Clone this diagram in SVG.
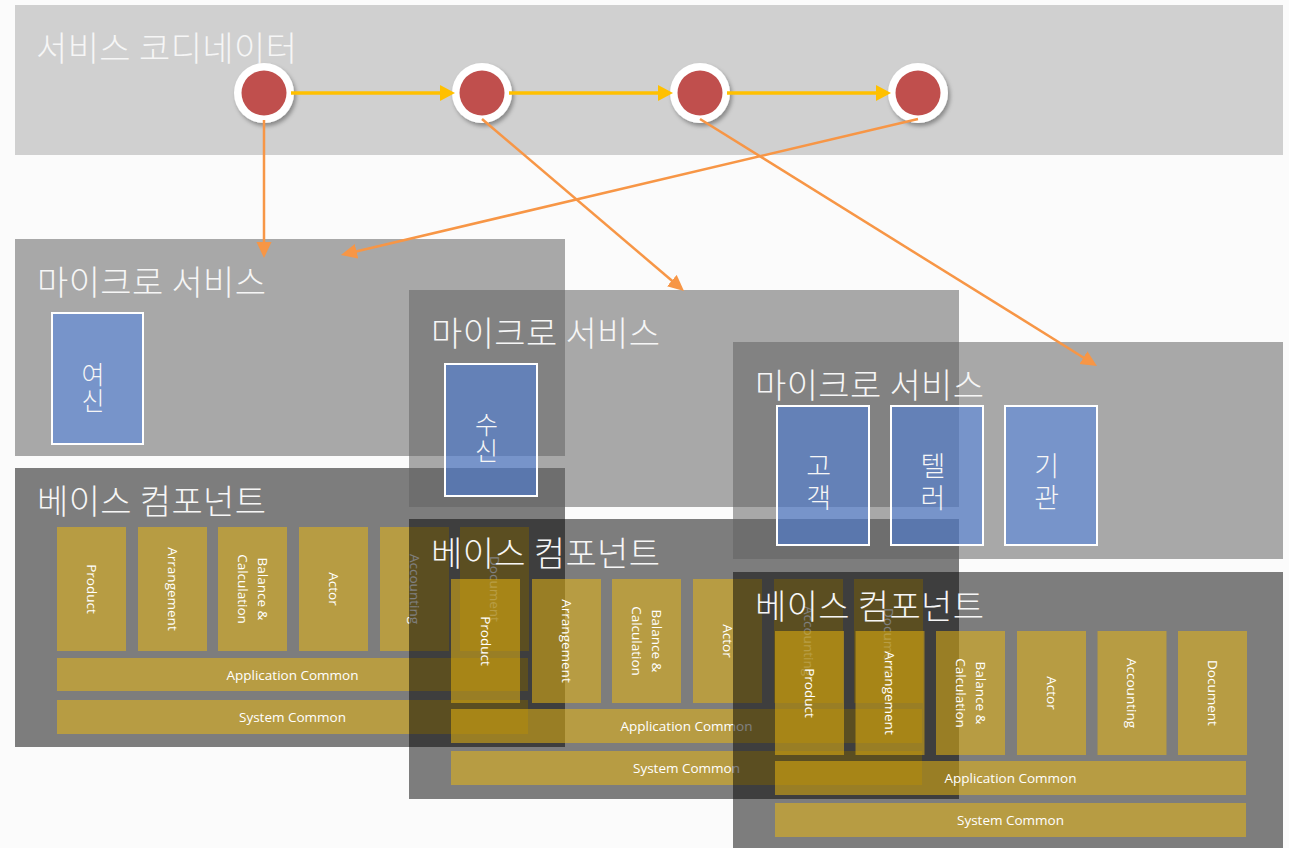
<svg xmlns="http://www.w3.org/2000/svg" width="1289" height="848" viewBox="0 0 1289 848">
  <defs>
    <style>
      .ko { font-family: "Noto Sans CJK KR", "Noto Sans", sans-serif; font-weight: 300; fill: #f6f6f6; }
      .title { font-size: 34px; }
      .blk { font-size: 25px; text-anchor: middle; }
      .blk3 { font-size: 27px; text-anchor: middle; }
      .en { font-family: "Open Sans", "Liberation Sans", sans-serif; font-size: 13.5px; fill: #ffffff; text-anchor: middle; }
      .micro { fill: #626262; fill-opacity: 0.54; }
      .base { fill: #000000; fill-opacity: 0.5; }
      .gold { fill: #ebb710; fill-opacity: 0.53; }
      .svc { fill: #4680ec; fill-opacity: 0.5; stroke: #ffffff; stroke-width: 2; }
      .flow { stroke: #ffc000; stroke-width: 3.5; fill: none; }
      .call { stroke: #f79646; stroke-width: 2.5; fill: none; }
    </style>
    <filter id="shadow" x="-30%" y="-30%" width="160%" height="160%">
      <feDropShadow dx="2" dy="3" stdDeviation="2" flood-color="#000" flood-opacity="0.35"/>
    </filter>
    <marker id="headY" markerUnits="userSpaceOnUse" markerWidth="16" markerHeight="16" refX="5" refY="8" orient="auto">
      <path d="M0,0 L15,8 L0,16 Z" fill="#ffc000"/>
    </marker>
    <marker id="headO" markerUnits="userSpaceOnUse" markerWidth="17" markerHeight="16" refX="6" refY="8" orient="auto">
      <path d="M0,0.5 L16,8 L0,15.5 Z" fill="#f79646"/>
    </marker>
  </defs>

  <rect x="0" y="0" width="1289" height="848" fill="#fbfbfb"/>

  <!-- coordinator band -->
  <g id="coordinator">
    <rect x="15" y="5" width="1268" height="150" fill="#d0d0d0"/>
    <text class="ko title" x="36" y="61" textLength="261" lengthAdjust="spacing">서비스 코디네이터</text>
  </g>

  <!-- stack 1 -->
  <g id="ms-1">
    <rect class="micro" x="15" y="239" width="550" height="217"/>
    <text class="ko title" x="37" y="295" textLength="229" lengthAdjust="spacing">마이크로 서비스</text>
    <g id="svc-loan">
      <rect class="svc" x="52" y="313" width="91" height="131"/>
      <text class="ko blk"><tspan x="93" y="383.5">여</tspan><tspan x="93" dy="26.5">신</tspan></text>
    </g>
  </g>
  <g id="bc-1">
    <rect class="base" x="15" y="468" width="550" height="279"/>
    <text class="ko title" x="37" y="514" textLength="229" lengthAdjust="spacing">베이스 컴포넌트</text>
    <rect class="gold" x="57" y="527" width="69" height="124"/>
    <rect class="gold" x="138" y="527" width="69" height="124"/>
    <rect class="gold" x="218" y="527" width="69" height="124"/>
    <rect class="gold" x="299" y="527" width="69" height="124"/>
    <rect class="gold" x="380" y="527" width="69" height="124"/>
    <rect class="gold" x="460" y="527" width="69" height="124"/>
    <text class="en" transform="translate(91.5,589) rotate(90)" y="4.7">Product</text>
    <text class="en" transform="translate(172.5,589) rotate(90)" y="4.7">Arrangement</text>
    <text class="en" transform="translate(252.5,589) rotate(90)"><tspan x="0" y="-5.3">Balance &amp;</tspan><tspan x="0" y="14.7">Calculation</tspan></text>
    <text class="en" transform="translate(333.5,589) rotate(90)" y="4.7">Actor</text>
    <text class="en" transform="translate(414.5,589) rotate(90)" y="4.7">Accounting</text>
    <text class="en" transform="translate(494.5,589) rotate(90)" y="4.7">Document</text>
    <rect class="gold" x="57" y="658" width="471" height="33"/>
    <text class="en" x="292.5" y="679.5">Application Common</text>
    <rect class="gold" x="57" y="700" width="471" height="34"/>
    <text class="en" x="292.5" y="722">System Common</text>
  </g>

  <!-- stack 2 -->
  <g id="ms-2">
    <rect class="micro" x="409" y="290" width="550" height="217"/>
    <text class="ko title" x="431" y="346" textLength="229" lengthAdjust="spacing">마이크로 서비스</text>
    <g id="svc-deposit">
      <rect class="svc" x="445" y="364" width="92" height="132"/>
      <text class="ko blk"><tspan x="486.5" y="433.5">수</tspan><tspan x="486.5" dy="26.5">신</tspan></text>
    </g>
  </g>
  <g id="bc-2">
    <rect class="base" x="409" y="519" width="550" height="280"/>
    <text class="ko title" x="431" y="566" textLength="229" lengthAdjust="spacing">베이스 컴포넌트</text>
    <rect class="gold" x="451" y="579" width="69" height="124"/>
    <rect class="gold" x="532" y="579" width="69" height="124"/>
    <rect class="gold" x="612" y="579" width="69" height="124"/>
    <rect class="gold" x="693" y="579" width="69" height="124"/>
    <rect class="gold" x="774" y="579" width="69" height="124"/>
    <rect class="gold" x="854" y="579" width="69" height="124"/>
    <text class="en" transform="translate(485.5,641) rotate(90)" y="4.7">Product</text>
    <text class="en" transform="translate(566.5,641) rotate(90)" y="4.7">Arrangement</text>
    <text class="en" transform="translate(646.5,641) rotate(90)"><tspan x="0" y="-5.3">Balance &amp;</tspan><tspan x="0" y="14.7">Calculation</tspan></text>
    <text class="en" transform="translate(727.5,641) rotate(90)" y="4.7">Actor</text>
    <text class="en" transform="translate(808.5,641) rotate(90)" y="4.7">Accounting</text>
    <text class="en" transform="translate(888.5,641) rotate(90)" y="4.7">Document</text>
    <rect class="gold" x="451" y="709" width="471" height="34"/>
    <text class="en" x="686.5" y="731">Application Common</text>
    <rect class="gold" x="451" y="751" width="471" height="34"/>
    <text class="en" x="686.5" y="773">System Common</text>
  </g>

  <!-- stack 3 -->
  <g id="ms-3">
    <rect class="micro" x="733" y="342" width="550" height="217"/>
    <text class="ko title" x="755" y="398" textLength="229" lengthAdjust="spacing">마이크로 서비스</text>
    <g id="svc-customer">
      <rect class="svc" x="777" y="406" width="92" height="139"/>
      <text class="ko blk3"><tspan x="818.7" y="476">고</tspan><tspan x="818.7" dy="32">객</tspan></text>
    </g>
    <g id="svc-teller">
      <rect class="svc" x="891" y="406" width="92" height="139"/>
      <text class="ko blk3"><tspan x="933" y="476">텔</tspan><tspan x="933" dy="32">러</tspan></text>
    </g>
    <g id="svc-institution">
      <rect class="svc" x="1005" y="406" width="92" height="139"/>
      <text class="ko blk3"><tspan x="1046.7" y="476">기</tspan><tspan x="1046.7" dy="32">관</tspan></text>
    </g>
  </g>
  <g id="bc-3">
    <rect class="base" x="733" y="572" width="550" height="279"/>
    <text class="ko title" x="755" y="619" textLength="229" lengthAdjust="spacing">베이스 컴포넌트</text>
    <rect class="gold" x="775" y="631" width="69" height="124"/>
    <rect class="gold" x="855.5" y="631" width="69" height="124"/>
    <rect class="gold" x="936" y="631" width="69" height="124"/>
    <rect class="gold" x="1017" y="631" width="69" height="124"/>
    <rect class="gold" x="1097.5" y="631" width="69" height="124"/>
    <rect class="gold" x="1178" y="631" width="69" height="124"/>
    <text class="en" transform="translate(809.5,693) rotate(90)" y="4.7">Product</text>
    <text class="en" transform="translate(890,693) rotate(90)" y="4.7">Arrangement</text>
    <text class="en" transform="translate(970.5,693) rotate(90)"><tspan x="0" y="-5.3">Balance &amp;</tspan><tspan x="0" y="14.7">Calculation</tspan></text>
    <text class="en" transform="translate(1051.5,693) rotate(90)" y="4.7">Actor</text>
    <text class="en" transform="translate(1132,693) rotate(90)" y="4.7">Accounting</text>
    <text class="en" transform="translate(1212.5,693) rotate(90)" y="4.7">Document</text>
    <rect class="gold" x="775" y="761" width="471" height="34"/>
    <text class="en" x="1010.5" y="783">Application Common</text>
    <rect class="gold" x="775" y="803" width="471" height="34"/>
    <text class="en" x="1010.5" y="825">System Common</text>
  </g>

  <!-- orchestration steps -->
  <g id="step-1" filter="url(#shadow)">
    <circle cx="264" cy="93" r="30" fill="#ffffff"/>
    <circle cx="264" cy="93" r="22.5" fill="#c0504d"/>
  </g>
  <g id="step-2" filter="url(#shadow)">
    <circle cx="482" cy="93" r="30" fill="#ffffff"/>
    <circle cx="482" cy="93" r="22.5" fill="#c0504d"/>
  </g>
  <g id="step-3" filter="url(#shadow)">
    <circle cx="700" cy="93" r="30" fill="#ffffff"/>
    <circle cx="700" cy="93" r="22.5" fill="#c0504d"/>
  </g>
  <g id="step-4" filter="url(#shadow)">
    <circle cx="918" cy="93" r="30" fill="#ffffff"/>
    <circle cx="918" cy="93" r="22.5" fill="#c0504d"/>
  </g>

  <!-- connectors -->
  <g id="connectors">
    <line class="flow" x1="291" y1="93" x2="445" y2="93" marker-end="url(#headY)"/>
    <line class="flow" x1="509" y1="93" x2="663" y2="93" marker-end="url(#headY)"/>
    <line class="flow" x1="727" y1="93" x2="881" y2="93" marker-end="url(#headY)"/>
    <line class="call" x1="264" y1="120" x2="264" y2="248" marker-end="url(#headO)"/>
    <line class="call" x1="482" y1="119" x2="676.4" y2="284.5" marker-end="url(#headO)"/>
    <line class="call" x1="700" y1="119" x2="1088.5" y2="360.7" marker-end="url(#headO)"/>
    <line class="call" x1="918" y1="119" x2="350.7" y2="252.7" marker-end="url(#headO)"/>
  </g>
</svg>
